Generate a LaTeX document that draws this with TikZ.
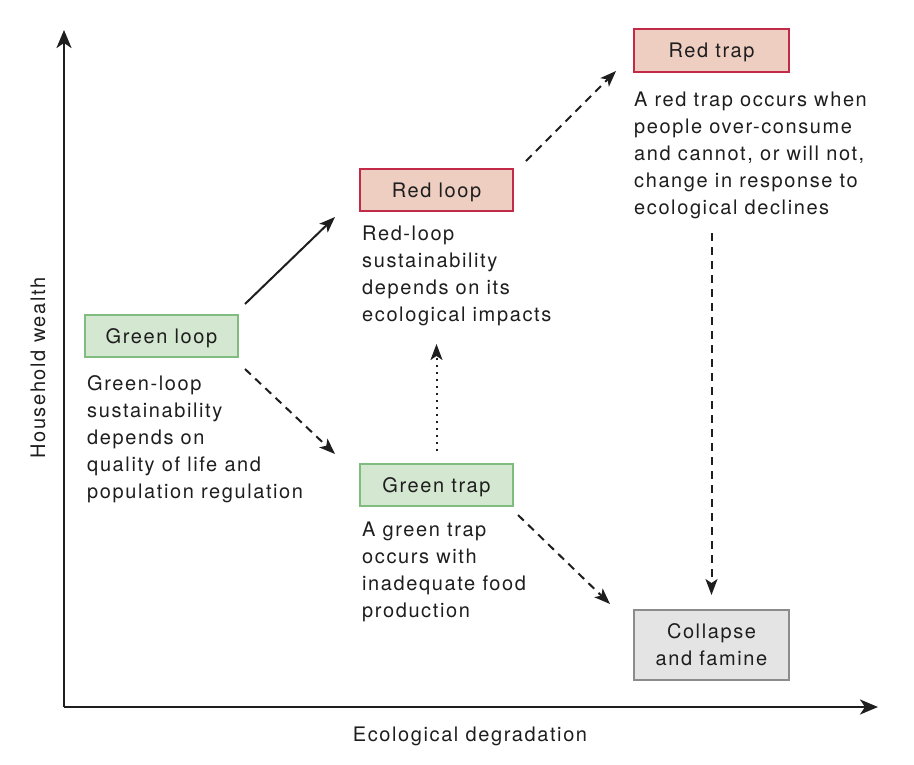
\documentclass[tikz,border=0pt]{standalone}
\usepackage{fontspec}
\setmainfont{TeX Gyre Heros}[LetterSpace=8]
\usetikzlibrary{arrows.meta,calc}
\definecolor{gfill}{RGB}{212,231,208}
\definecolor{gdraw}{RGB}{128,188,128}
\definecolor{rfill}{RGB}{238,206,193}
\definecolor{rdraw}{RGB}{194,42,72}
\definecolor{cfill}{RGB}{228,228,228}
\definecolor{cdraw}{RGB}{140,140,140}
\definecolor{ink}{RGB}{30,30,30}
\begin{document}
\begin{tikzpicture}[x=1pt,y=-1pt,
  every node/.style={font=\fontsize{20}{27}\selectfont, text=ink},
  box/.style={draw, line width=2pt, inner sep=0pt, minimum width=153pt, minimum height=42pt, align=center},
  oneline/.style={text height=14.4pt, text depth=0pt},
  greenbox/.style={box, oneline, fill=gfill, draw=gdraw},
  redbox/.style={box, oneline, fill=rfill, draw=rdraw},
  graybox/.style={box, fill=cfill, draw=cdraw},
  desc/.style={anchor=north west, align=left, inner sep=0pt},
  conn/.style={line width=2pt, draw=ink, -{Stealth[length=16pt,width=12pt,inset=4pt]}},
  dashconn/.style={conn, dash pattern=on 8pt off 6pt},
  dotconn/.style={conn, dash pattern=on 2pt off 5pt},
  axis/.style={line width=2.5pt, draw=ink, -{Stealth[length=18pt,width=15pt,inset=5pt]}}
]
\useasboundingbox (0,0) rectangle (914,764);
% axes
\coordinate (origin) at (64,707);
\coordinate (ytop) at (64,30);
\coordinate (xend) at (878,707);
\draw[axis] (origin) -- (ytop);
\draw[axis] (origin) -- (xend);
\node[rotate=90] (ylab) at (38,368) {Household wealth};
\node (xlab) at (470,736) {Ecological degradation};
% boxes
\node[greenbox] (gl) at (161.5,336) {Green loop};
\node[redbox] (rl) at (436.5,190) {Red loop};
\node[redbox, minimum width=155pt, minimum height=43pt] (rt) at (711.5,50.5) {Red trap};
\node[greenbox] (gt) at (436.5,485) {Green trap};
\node[graybox, minimum width=155pt, minimum height=70pt] (cf) at (711.5,645) {Collapse\\and famine};
% descriptions
\node[desc] (gltext) at (87,375) {Green-loop\\sustainability\\depends on\\quality of life and\\population regulation};
\node[desc] (rltext) at (362,226) {Red-loop\\sustainability\\depends on its\\ecological impacts};
\node[desc] (rttext) at (634,92) {A red trap occurs when\\people over-consume\\and cannot, or will not,\\change in response to\\ecological declines};
\node[desc] (gttext) at (362,522) {A green trap\\occurs with\\inadequate food\\production};
% connectors
\draw[conn] ($(gl.north east)+(6,-10)$) -- ($(rl.south west)+(-24,5)$);
\draw[dashconn] ($(gl.south east)+(6,11)$) -- ($(gt.north west)+(-24,-9)$);
\draw[dotconn] ($(gt.north)+(0,-12)$) -- ($(gt.north)+(0,-119)$);
\draw[dashconn] ($(rl.north east)+(12,-7)$) -- ($(rt.south west)+(-17,-2)$);
\draw[dashconn] ($(rt.south)+(0,160)$) -- ($(cf.north)+(0,-14)$);
\draw[dashconn] ($(gt.south east)+(4,8)$) -- ($(cf.north west)+(-23,-5)$);
\end{tikzpicture}
\end{document}
